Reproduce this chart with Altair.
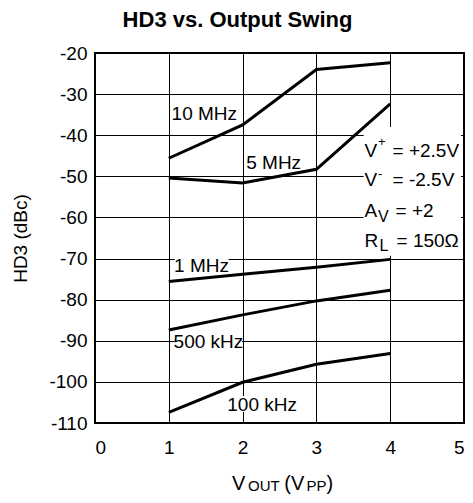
import altair as alt
import pandas as pd

# ---- data ----
vout = [1, 2, 3, 4]
hd3_10mhz = [-45.6, -37.5, -24.0, -22.4]
hd3_5mhz = [-50.4, -51.6, -48.3, -32.4]
hd3_1mhz = [-75.6, -73.8, -72.1, -70.2]
hd3_500khz = [-87.4, -83.7, -80.3, -77.7]
hd3_100khz = [-107.4, -100.1, -95.7, -93.1]
series_names = ["10 MHz", "5 MHz", "1 MHz", "500 kHz", "100 kHz"]

x_ticks = [0, 1, 2, 3, 4, 5]
y_ticks = [-110, -100, -90, -80, -70, -60, -50, -40, -30, -20]

series_values = [hd3_10mhz, hd3_5mhz, hd3_1mhz, hd3_500khz, hd3_100khz]
rows = []
for name, vals in zip(series_names, series_values):
    for xv, yv in zip(vout, vals):
        rows.append({"series": name, "x": xv, "y": yv})
df = pd.DataFrame(rows)

FONT = "Liberation Sans"
FS = 19

xs = alt.Scale(domain=[0, 5], nice=False, zero=False)
ys = alt.Scale(domain=[-110, -20], nice=False, zero=False)
x_axis = alt.Axis(values=x_ticks, title=None, labelFontSize=FS, labelFont=FONT,
                  labelColor="black", labelPadding=15,
                  labelExpr="datum.value + ''")
y_axis = alt.Axis(values=y_ticks, title="HD3 (dBc)", labelFontSize=FS, labelFont=FONT,
                  labelColor="black", labelPadding=8,
                  labelExpr="datum.value + ''",
                  titleFont=FONT, titleFontSize=FS, titleFontWeight="normal",
                  titleColor="black", titleAngle=-90, titleX=-69, titleY=185,
                  titleBaseline="alphabetic", titleAlign="center")


def X(field):
    return alt.X(field, type="quantitative", scale=xs, axis=x_axis)


def Y(field):
    return alt.Y(field, type="quantitative", scale=ys, axis=y_axis)


# white backgrounds behind labels (data coordinates)
bg = pd.DataFrame({
    "x1": [1.08, 1.08, 1.81, 3.64],
    "x2": [1.81, 1.99, 2.72, 4.96],
    "y1": [-73.7, -92.0, -107.35, -69.3],
    "y2": [-69.5, -88.1, -103.45, -38.0],
})
rects = alt.Chart(bg).mark_rect(color="white").encode(
    x=X("x1"), x2="x2", y=Y("y1"), y2="y2")

lines = alt.Chart(df).mark_line(color="black", strokeWidth=3).encode(
    x=X("x"), y=Y("y"), detail="series:N")

label_x = [1.038, 2.049, 1.071, 1.065, 1.792]
label_y = [-36.3, -48.2, -73.2, -91.65, -107.05]
labels_df = pd.DataFrame({"x": label_x, "y": label_y, "t": series_names})
labels = alt.Chart(labels_df).mark_text(
    align="left", baseline="alphabetic", font=FONT, fontSize=FS, color="black"
).encode(x=X("x"), y=Y("y"), text="t:N")


def piece(text, x, y, dx=0, dy=0, size=FS):
    d = pd.DataFrame({"x": [x], "y": [y], "t": [text]})
    return alt.Chart(d).mark_text(
        align="left", baseline="alphabetic", font=FONT, fontSize=size,
        color="black", dx=dx, dy=dy
    ).encode(x=X("x"), y=Y("y"), text="t:N")


AX = 3.652
cond = [
    piece("V", AX, -45.2),
    piece("+", AX, -45.2, dx=13.5, dy=-10.5, size=13),
    piece("= +2.5V", AX, -45.2, dx=28),
    piece("V", AX, -52.4),
    piece("-", AX, -52.4, dx=13.5, dy=-8.5, size=13),
    piece("= -2.5V", AX, -52.4, dx=28),
    piece("A", AX, -59.8),
    piece("V", AX, -59.8, dx=13.5, dy=5, size=16),
    piece("= +2", AX, -59.8, dx=31),
    piece("R", AX, -67.1),
    piece("L", AX, -67.1, dx=15, dy=4, size=16),
    piece("= 150Ω", AX, -67.1, dx=32),
]


def px_piece(text, px, py, size, weight="normal", align="left"):
    d = pd.DataFrame({"t": [text]})
    return alt.Chart(d).mark_text(
        align=align, baseline="alphabetic", font=FONT, fontSize=size,
        fontWeight=weight, color="black"
    ).encode(x=alt.value(px), y=alt.value(py), text="t:N")


XT_BASE = 437
xtitle = [
    px_piece("V", 137, XT_BASE, 20),
    px_piece("OUT", 153, XT_BASE + 1, 15),
    px_piece("(V", 189.3, XT_BASE, 20),
    px_piece("PP", 211.5, XT_BASE + 1, 15),
    px_piece(")", 231.4, XT_BASE, 20),
]
title = px_piece("HD3 vs. Output Swing", 142.5, -26, 22, weight="bold", align="center")

chart = alt.layer(rects, lines, labels, *cond, *xtitle, title).properties(
    width=369,
    height=370,
    autosize=alt.AutoSizeParams(type="none"),
    padding={"left": 87, "top": 45, "right": 1, "bottom": 72},
).configure_view(
    stroke="black", strokeWidth=2
).configure_axis(
    domain=False, ticks=False, grid=True, gridColor="black", gridWidth=1,
    gridOpacity=1
)

chart.save("out.html", embed_options={"renderer": "svg", "actions": False})
